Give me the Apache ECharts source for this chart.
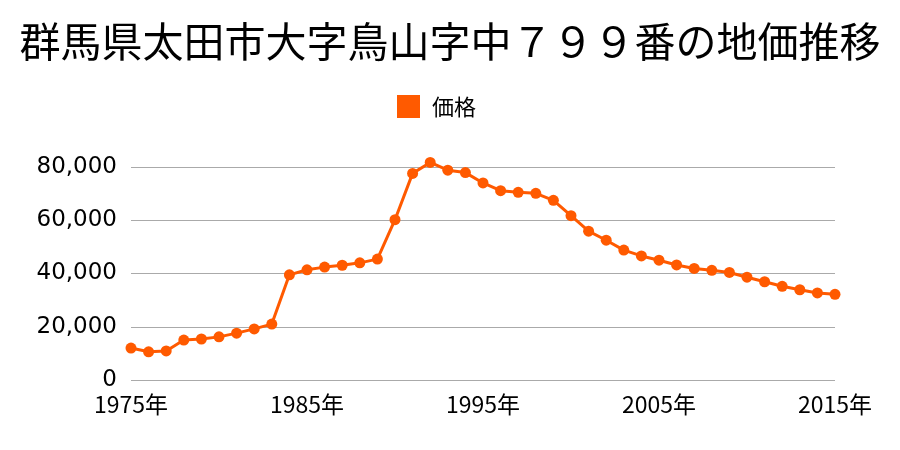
<!DOCTYPE html>
<html>
<head>
<meta charset="utf-8">
<script src="https://cdn.jsdelivr.net/npm/echarts@6/dist/echarts.min.js"></script>
<style>
html,body{margin:0;padding:0;background:#fff;}
#chart{width:900px;height:450px;}
</style>
</head>
<body>
<div id="chart"></div>
<script>
const titleText = '群馬県太田市大字鳥山字中７９９番の地価推移';
const seriesName = '価格';
const years = ['1975','1976','1977','1978','1979','1980','1981','1982','1983','1984',
  '1985','1986','1987','1988','1989','1990','1991','1992','1993','1994',
  '1995','1996','1997','1998','1999','2000','2001','2002','2003','2004',
  '2005','2006','2007','2008','2009','2010','2011','2012','2013','2014','2015'];
const prices = [12000,10600,10900,15000,15400,16200,17600,19200,21000,39500,
  41400,42400,43100,44000,45400,60200,77600,81700,78800,77900,
  74000,71100,70500,70100,67500,61700,55900,52500,48800,46600,
  45000,43200,41900,41200,40400,38600,36900,35200,33900,32700,32200];
const yTicks = {min:0, max:80000, interval:20000};

const chart = echarts.init(document.getElementById('chart'), null, {renderer:'canvas'});
chart.setOption({
  animation:false,
  backgroundColor:'#ffffff',
  title:{
    text:titleText,
    left:'center',
    top:16,
    textStyle:{fontFamily:'Noto Sans CJK JP', fontSize:41, fontWeight:'normal', color:'#000'}
  },
  legend:{
    data:[{name:seriesName, icon:'rect'}],
    top:90,
    left:392,
    itemWidth:23,
    itemHeight:23,
    itemGap:10,
    textStyle:{fontFamily:'Noto Sans CJK JP', fontSize:22, color:'#000', padding:[0,0,0,7]}
  },
  grid:{left:131, right:65, top:167, bottom:70, containLabel:false},
  xAxis:{
    type:'category',
    data:years,
    boundaryGap:false,
    axisLine:{show:false},
    axisTick:{show:false},
    splitLine:{show:false},
    axisLabel:{
      interval:9,
      margin:13,
      formatter:v=>v+'年',
      fontFamily:'Noto Sans CJK JP',
      fontSize:23,
      color:'#000'
    }
  },
  yAxis:{
    type:'value',
    min:yTicks.min, max:yTicks.max, interval:yTicks.interval,
    axisLine:{show:false},
    axisTick:{show:false},
    splitLine:{show:true, lineStyle:{color:'#aaaaaa', width:1}},
    axisLabel:{
      margin:14,
      formatter:v=>v.toLocaleString('en-US'),
      fontFamily:'DejaVu Sans',
      fontSize:23,
      color:'#000'
    }
  },
  series:[{
    name:seriesName,
    type:'line',
    data:prices,
    clip:false,
    color:'#ff5a00',
    symbol:'circle',
    symbolSize:11,
    lineStyle:{width:3, color:'#ff5a00'},
    itemStyle:{color:'#ff5a00'}
  }]
});
</script>
</body>
</html>
